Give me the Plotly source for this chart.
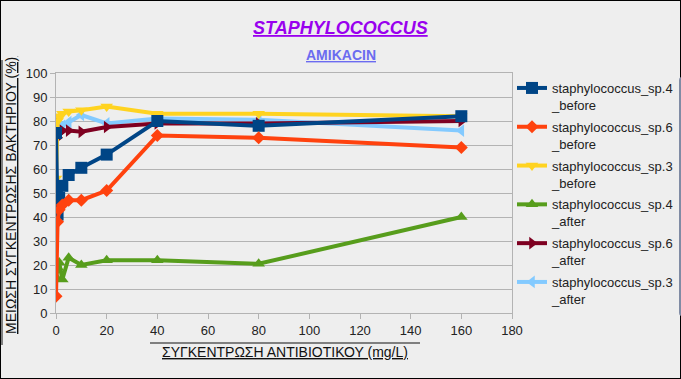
import plotly.graph_objects as go

# concentrations (mg/L)
conc = [0, 0.625, 1.25, 2.5, 5, 10, 20, 40, 80, 160]

sp4_before = [75, 41, 48, 53, 57.5, 60.5, 66, 80, 78, 82]
sp6_before = [7, 38, 43, 45, 47, 47, 51, 74, 73, 69]
sp3_before = [56, 80, 82, 83, 84, 84.5, 86, 83, 83, 82]
sp4_after = [15, 19, 21, 14, 23, 20, 22, 22, 20.5, 40]
sp6_after = [81, 73, 75, 76, 76, 75.5, 77.5, 79, 79, 80]
sp3_after = [78, 80, 79, 78, 79.5, 82.5, 79, 81, 80.5, 76]

series_names = [
    "staphylococcus_sp.4<br>_before",
    "staphylococcus_sp.6<br>_before",
    "staphylococcus_sp.3<br>_before",
    "staphylococcus_sp.4<br>_after",
    "staphylococcus_sp.6<br>_after",
    "staphylococcus_sp.3<br>_after",
]
series_values = [sp4_before, sp6_before, sp3_before, sp4_after, sp6_after, sp3_after]
colors = ["#004586", "#ff420e", "#ffd320", "#579d1c", "#7e0021", "#83caff"]
symbols = ["square", "diamond", "triangle-down", "triangle-up", "triangle-right", "triangle-left"]
sizes = [12, 10, 11, 11, 11, 11]
draw_order = [5, 4, 2, 3, 0, 1]  # which series is drawn first (bottom) .. last (top)

x_ticks = [0, 20, 40, 60, 80, 100, 120, 140, 160, 180]
y_ticks = [0, 10, 20, 30, 40, 50, 60, 70, 80, 90, 100]

x_title = "ΣΥΓΚΕΝΤΡΩΣΗ ΑΝΤΙΒΙΟΤΙΚΟΥ (mg/L)"
y_title = "ΜΕΙΩΣΗ ΣΥΓΚΕΝΤΡΩΣΗΣ ΒΑΚΤΗΡΙΟΥ (%)"

fig = go.Figure()
for i in draw_order:
    c = colors[i]
    fig.add_trace(go.Scatter(
        x=conc, y=series_values[i], name=series_names[i], mode="lines+markers",
        legendgroup=f"g{i}", legendrank=i + 1,
        line=dict(color=c, width=4),
        marker=dict(color=c, symbol=symbols[i], size=sizes[i], line=dict(width=0)),
    ))

font = "Liberation Sans, Arial, sans-serif"
W, H = 681, 379
ml, mr, mt, mb = 56, 169, 73, 66
pw = W - ml - mr
ph = H - mt - mb


def px_x(p):
    return (p - ml) / pw


def px_y(p):
    return (H - mb - p) / ph


fig.update_layout(
    width=W, height=H,
    margin=dict(l=ml, r=mr, t=mt, b=mb, pad=0),
    paper_bgcolor="#eeeeee", plot_bgcolor="#eeeeee",
    font=dict(family=font, size=12, color="#222222"),
    showlegend=True,
    legend=dict(xref="container", yref="paper",
                x=512 / W, xanchor="left", y=1.0, yanchor="top",
                font=dict(family=font, size=13, color="#222222"), valign="top",
                traceorder="grouped", tracegroupgap=2,
                bgcolor="rgba(0,0,0,0)", itemwidth=30),
    xaxis=dict(range=[0, 180], tickvals=x_ticks, ticktext=[str(v) for v in x_ticks],
               showgrid=False, zeroline=False, showline=True, linecolor="#b3b3b3",
               linewidth=1, mirror=True, ticks="outside", ticklen=5, tickcolor="#b3b3b3",
               tickfont=dict(size=13, color="#222222"), automargin=False),
    yaxis=dict(range=[0, 100], tickvals=y_ticks, ticktext=[str(v) for v in y_ticks],
               showgrid=True, gridcolor="#b3b3b3", gridwidth=1, zeroline=False,
               showline=True, linecolor="#b3b3b3", linewidth=1, mirror=True,
               ticks="outside", ticklen=5, tickcolor="#b3b3b3",
               tickfont=dict(size=13, color="#222222"), automargin=False),
)

# titles
fig.add_annotation(text="<b><i><u>STAPHYLOCOCCUS</u></i></b>", xref="paper", yref="paper",
                   x=px_x(W / 2), y=px_y(28), xanchor="center", yanchor="middle",
                   showarrow=False, font=dict(family=font, size=18, color="#9900ee"))
fig.add_annotation(text="<b><u>AMIKACIN</u></b>", xref="paper", yref="paper",
                   x=px_x(W / 2), y=px_y(55), xanchor="center", yanchor="middle",
                   showarrow=False, font=dict(family=font, size=14, color="#6b6bf0"))

# axis titles (underline via <u>, overline via thin line)
fig.add_annotation(text=f"<u>{x_title}</u>", xref="paper", yref="paper",
                   x=px_x(285), y=px_y(352), xanchor="center", yanchor="middle",
                   showarrow=False, font=dict(family=font, size=14, color="#111111"))
fig.add_shape(type="line", xref="paper", yref="paper",
              x0=px_x(150), x1=px_x(420), y0=px_y(343), y1=px_y(343),
              line=dict(color="#111111", width=1))
fig.add_annotation(text=f"<u>{y_title}</u>", xref="paper", yref="paper",
                   x=px_x(11), y=px_y(196), xanchor="center", yanchor="middle", textangle=-90,
                   showarrow=False, font=dict(family=font, size=14, color="#111111"))
fig.add_shape(type="line", xref="paper", yref="paper",
              x0=px_x(2), x1=px_x(2), y0=px_y(60), y1=px_y(345),
              line=dict(color="#111111", width=1))

fig.add_shape(type="rect", xref="paper", yref="paper",
              x0=px_x(0), x1=px_x(W), y0=px_y(H), y1=px_y(0),
              line=dict(color="#000000", width=2), layer="above")

fig.write_html("out.html", config={"displayModeBar": False},
               post_script="document.body.style.margin='0px';document.body.style.overflow='hidden';")
